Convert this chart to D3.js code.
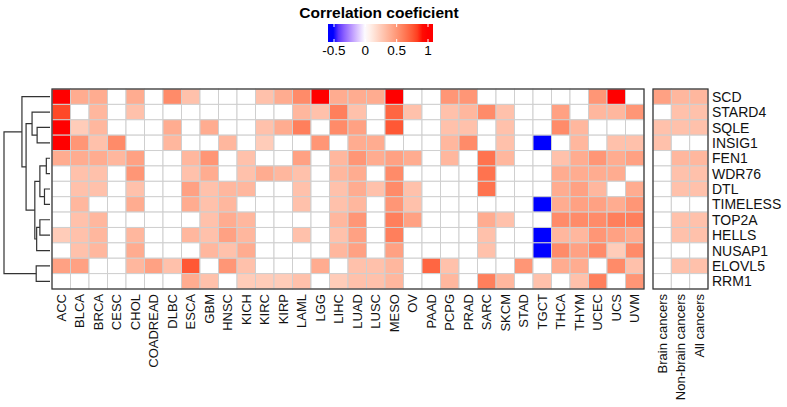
<!DOCTYPE html>
<html><head><meta charset="utf-8">
<script src="https://cdn.jsdelivr.net/npm/d3@7"></script>
<style>body{margin:0;background:#fff;}text{font-family:"Liberation Sans",Arial,sans-serif;}</style>
</head><body><svg id="c" width="787" height="407"></svg>
<script>
const cancers = ["ACC","BLCA","BRCA","CESC","CHOL","COADREAD","DLBC","ESCA","GBM","HNSC","KICH","KIRC","KIRP","LAML","LGG","LIHC","LUAD","LUSC","MESO","OV","PAAD","PCPG","PRAD","SARC","SKCM","STAD","TGCT","THCA","THYM","UCEC","UCS","UVM"];
const groups = ["Brain cancers","Non-brain cancers","All cancers"];
const genes = ["SCD","STARD4","SQLE","INSIG1","FEN1","WDR76","DTL","TIMELESS","TOP2A","HELLS","NUSAP1","ELOVL5","RRM1"];
const legendTicks = [-0.5, 0, 0.5, 1];

const SCD      = [1.0,.4,.4,0,.4,0,.55,.3,0,0,0,.3,.4,.55,.95,.4,.4,.4,1.0,0,0,.5,.5,0,0,0,0,0,0,.5,1.0,0];
const STARD4   = [.8,0,.35,0,.3,0,0,0,0,0,0,0,0,.35,.3,.6,.3,0,.7,.3,0,.3,.35,.55,.3,0,0,.45,0,.35,.35,.5];
const SQLE     = [.95,.25,.35,0,0,0,.4,0,.4,0,0,.3,.4,.6,0,.55,.45,0,.75,0,0,.3,.3,0,.3,0,0,.55,.35,0,0,0];
const INSIG1   = [.95,.5,.3,.55,0,0,.35,0,0,.35,0,.25,0,0,.5,0,.4,.4,0,0,0,.35,.55,0,.3,0,-.55,0,.35,0,.3,.3];
const FEN1     = [.4,.4,.4,.35,.45,0,0,.35,.5,0,.3,0,0,.45,0,.35,.5,.4,.45,.4,0,.35,0,.65,.35,0,0,.3,.4,.5,.4,.45];
const WDR76    = [0,.3,.3,0,.5,0,0,.3,.4,0,.3,.4,.35,.3,0,.35,.4,0,.55,0,0,0,0,.65,0,0,0,.4,.4,.4,.4,0];
const DTL      = [0,.3,.3,0,.3,0,0,.45,.3,.35,.35,0,0,.3,0,.3,.4,.3,.55,.3,0,0,0,.65,0,0,0,.4,.45,.35,0,.4];
const TIMELESS = [0,.35,0,0,.4,0,0,.4,.3,.35,0,0,0,.3,0,.3,.35,0,.5,.3,0,0,0,0,0,0,-.75,.4,.45,.45,.4,.5];
const TOP2A    = [0,.3,.35,0,0,0,0,0,.3,.4,.35,0,0,0,0,.35,.5,0,.6,.45,0,0,0,.4,.3,0,0,.55,.55,.55,.6,.6];
const HELLS    = [.25,.3,.35,0,.35,0,0,.35,.3,.45,.35,0,0,.3,0,.3,.45,0,.6,0,0,0,0,.3,0,0,-.75,.35,.35,.5,.45,.4];
const NUSAP1   = [0,.3,.35,0,.4,0,0,0,.35,.3,.4,0,0,0,0,.35,.45,0,.45,0,0,0,0,.3,0,0,-.75,.55,.45,.55,.25,.55];
const ELOVL5   = [.45,.45,0,0,.35,.45,.3,.75,0,.5,.3,0,0,0,.4,0,.3,.3,.35,0,.7,.3,0,0,0,.5,0,.4,.4,0,.55,.3];
const RRM1     = [0,0,0,0,0,0,0,.4,.3,0,.25,.25,.25,.3,0,.25,.3,.3,.35,0,0,.35,0,.6,.35,0,.3,0,.3,.6,0,.5];
const mainValues = [SCD,STARD4,SQLE,INSIG1,FEN1,WDR76,DTL,TIMELESS,TOP2A,HELLS,NUSAP1,ELOVL5,RRM1];

// Brain, Non-brain, All
const groupValues = [[.45,.35,.35],[0,.3,.3],[.3,.3,.3],[.3,0,0],[0,.35,.35],[0,.3,.3],[0,.3,.3],[0,0,0],[0,.3,.3],[0,.3,.3],[0,0,0],[0,.3,.3],[0,0,0]];

// dendrogram merges: [id, childA, childB, height]
const dendroMerges = [
  ["n1","SQLE","INSIG1",0.28],
  ["n2","STARD4","n1",0.39],
  ["n3","DTL","TIMELESS",0.12],
  ["n4","FEN1","WDR76",0.08],
  ["n5","n4","n3",0.22],
  ["n6","TOP2A","HELLS",0.22],
  ["n7","n6","NUSAP1",0.29],
  ["n8","n5","n7",0.33],
  ["n9","n2","n8",0.52],
  ["n10","SCD","n9",0.61],
  ["n11","ELOVL5","RRM1",0.30],
  ["root","n10","n11",1.0]
];

const svg = d3.select("#c");
const color = d3.scaleLinear().domain([-0.5,0,0.92]).range(["#0000ff","#ffffff","#ff0000"]).interpolate(d3.interpolateLab).clamp(true);

const x = d3.scaleBand().domain(cancers).range([52,644]);
const xg = d3.scaleBand().domain(groups).range([653,708]);
const y = d3.scaleBand().domain(genes).range([89,289]);

function drawPanel(xs, cols, vals){
  const g = svg.append("g");
  genes.forEach((gname,i)=>{
    cols.forEach((c,j)=>{
      g.append("rect").attr("x",xs(c)).attr("y",y(gname)).attr("width",xs.bandwidth()).attr("height",y.bandwidth())
        .attr("fill",color(vals[i][j])).attr("stroke","#cfcfcf").attr("stroke-width",1);
    });
  });
  g.append("rect").attr("x",xs.range()[0]).attr("y",89).attr("width",xs.range()[1]-xs.range()[0]).attr("height",200)
    .attr("fill","none").attr("stroke","#333").attr("stroke-width",1.2);
  cols.forEach(c=>{
    svg.append("text").attr("transform",`translate(${xs(c)+xs.bandwidth()/2},294) rotate(-90)`)
      .attr("text-anchor","end").attr("dy","0.36em").attr("font-size",13).attr("fill","#111").text(c);
  });
}
drawPanel(x, cancers, mainValues);
drawPanel(xg, groups, groupValues);

genes.forEach(gname=>{
  svg.append("text").attr("x",712).attr("y",y(gname)+y.bandwidth()/2).attr("dy","0.36em")
    .attr("font-size",14).attr("fill","#111").text(gname);
});

// dendrogram
const hx = d3.scaleLinear().domain([0,1]).range([50,4]);
const pos = {};
genes.forEach(gn=>{pos[gn]={x:hx(0),y:y(gn)+y.bandwidth()/2};});
const dg = svg.append("g").attr("stroke","#333").attr("stroke-width",1.2).attr("fill","none");
dendroMerges.forEach(([id,a,b,h])=>{
  const px = hx(h), A=pos[a], B=pos[b];
  dg.append("path").attr("d",`M${A.x},${A.y}H${px}V${B.y}H${B.x}`);
  pos[id]={x:px,y:(A.y+B.y)/2};
});

// legend
svg.append("text").attr("x",379).attr("y",18).attr("text-anchor","middle").attr("font-size",15.5).attr("font-weight","bold").text("Correlation coeficient");
const lx = d3.scaleLinear().domain([-0.5,1]).range([334,428]);
const defs = svg.append("defs");
const grad = defs.append("linearGradient").attr("id","lg");
const lmin = lx.invert(328), lmax = lx.invert(433);
d3.range(0,1.0001,0.05).forEach(t=>{
  grad.append("stop").attr("offset",t).attr("stop-color",color(lmin+t*(lmax-lmin)));
});
svg.append("rect").attr("x",328).attr("y",24).attr("width",105).attr("height",18).attr("fill","url(#lg)");
legendTicks.forEach(v=>{
  svg.append("line").attr("x1",lx(v)).attr("x2",lx(v)).attr("y1",24).attr("y2",27).attr("stroke","#fff");
  svg.append("line").attr("x1",lx(v)).attr("x2",lx(v)).attr("y1",39).attr("y2",42).attr("stroke","#fff");
  svg.append("text").attr("x",lx(v)).attr("y",55).attr("text-anchor","middle").attr("font-size",13.5).text(v);
});
</script></body></html>
